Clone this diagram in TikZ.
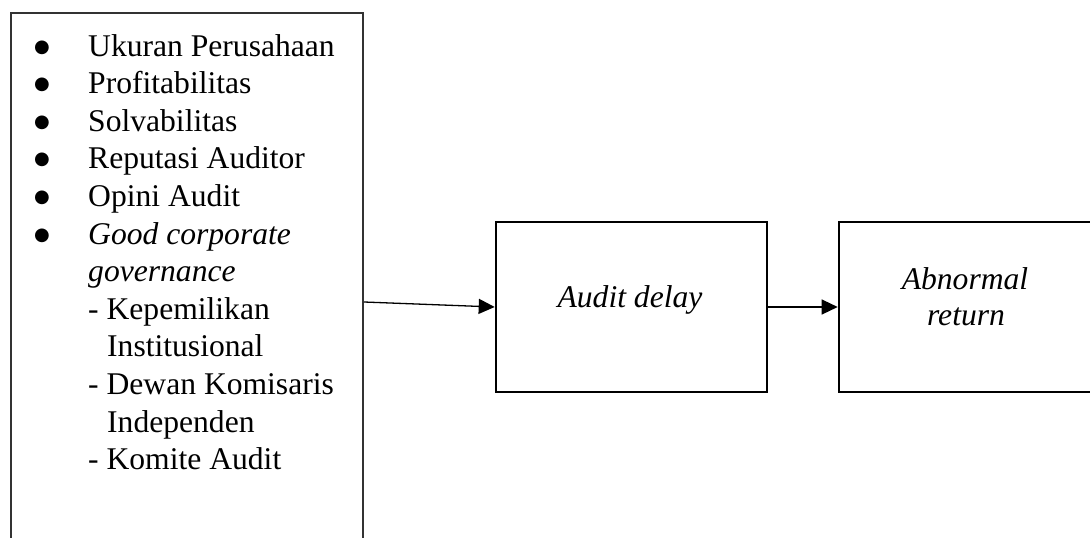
\documentclass[tikz,border=0pt]{standalone}
\usepackage{fontspec}
\setmainfont{Liberation Serif}
\newfontfamily\dotfont{DejaVu Sans}
\usetikzlibrary{arrows.meta}
\begin{document}
\begin{tikzpicture}[x=1pt,y=-1pt,
  box/.style={draw=black, line width=2.6pt, inner sep=0pt},
  listbox/.style={draw=black!80, line width=2pt, inner sep=0pt},
  txt/.style={font=\fontsize{31.6}{37.6}\selectfont, inner sep=0pt, anchor=base west},
  bulletmark/.style={font=\dotfont\fontsize{18}{18}\selectfont, inner sep=0pt, anchor=base, yshift=4pt},
  ctr/.style={font=\fontsize{31.6}{37.6}\selectfont\itshape, inner sep=0pt, anchor=base},
  link/.style={draw=black, line width=1.3pt, -{Triangle[length=16pt,width=15pt]}}]
\useasboundingbox (0,0) rectangle (1090,538);
\clip (0,0) rectangle (1090,538);

% frames
\node[listbox, minimum width=352pt, minimum height=600pt, anchor=north west] (factors) at (10,12) {};
\node[box, minimum width=271pt, minimum height=170pt] (delay) at (631.5,307) {};
\node[box, minimum width=253pt, minimum height=170pt] (ret) at (965.5,307) {};

% list of factors
\node[bulletmark] (b1) at (42,56) {●};
\node[txt]  (t1) at (88,56) {Ukuran Perusahaan};
\node[bulletmark] (b2) at (42,93.6) {●};
\node[txt]  (t2) at (88,93.6) {Profitabilitas};
\node[bulletmark] (b3) at (42,131.2) {●};
\node[txt]  (t3) at (88,131.2) {Solvabilitas};
\node[bulletmark] (b4) at (42,168.8) {●};
\node[txt]  (t4) at (88,168.8) {Reputasi Auditor};
\node[bulletmark] (b5) at (42,206.4) {●};
\node[txt]  (t5) at (88,206.4) {Opini Audit};
\node[bulletmark] (b6) at (42,244) {●};
\node[txt]  (t6) at (88,244) {\itshape Good corporate};
\node[txt]  (t7) at (88,281.6) {\itshape governance};
\node[txt]  (t8) at (88,319.2) {- Kepemilikan};
\node[txt]  (t9) at (107,356.8) {Institusional};
\node[txt]  (t10) at (88,394.4) {- Dewan Komisaris};
\node[txt]  (t11) at (107,432) {Independen};
\node[txt]  (t12) at (88,469.6) {- Komite Audit};

% box labels
\node[ctr] (dl) at (630,307) {Audit delay};
\node[ctr] (r1) at (965,289) {Abnormal};
\node[ctr] (r2) at (966,325) {return};

% connectors
\path (factors.north east) ++(0,290) coordinate (src);
\draw[link] (src) -- (delay.west);
\draw[link] (delay.east) -- (ret.west);
\end{tikzpicture}
\end{document}
